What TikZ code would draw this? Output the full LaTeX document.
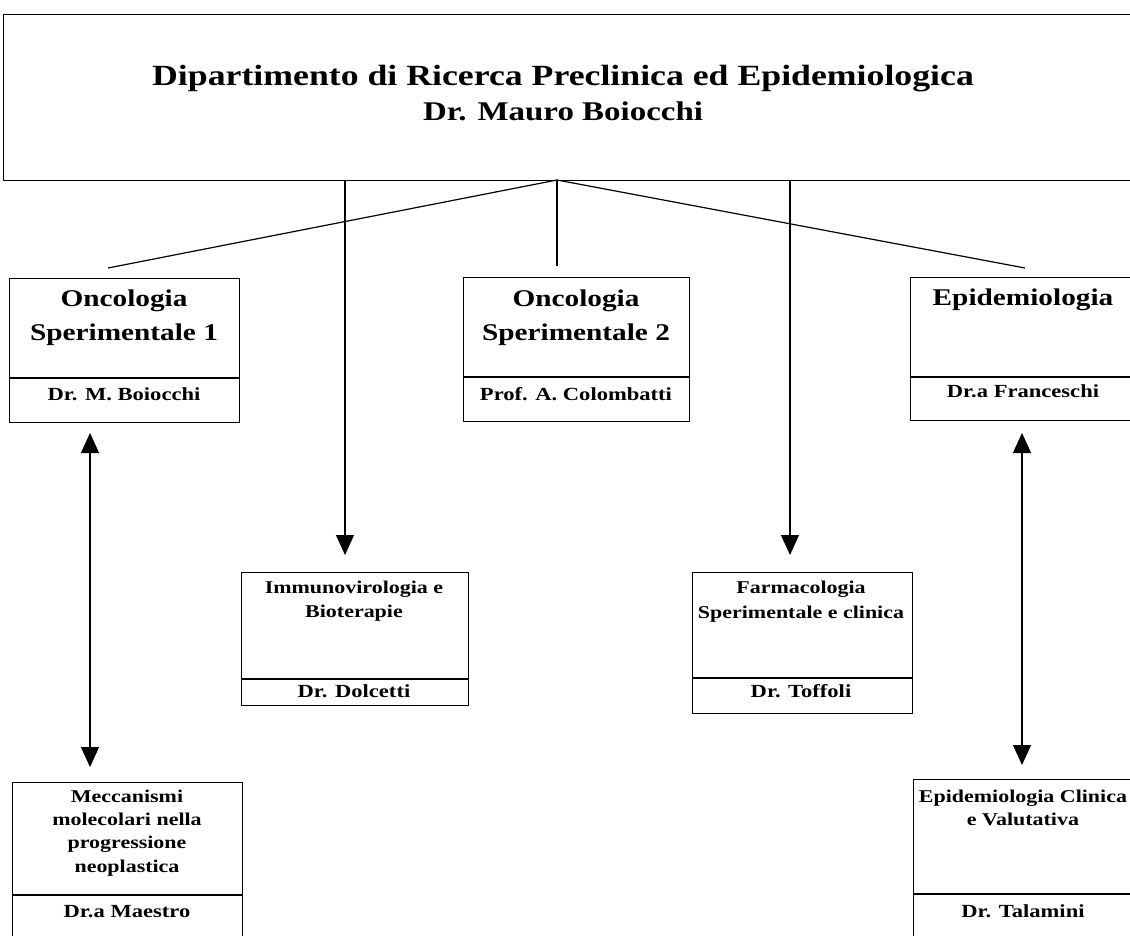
\documentclass[tikz,border=0pt]{standalone}
\usepackage{fontspec}
\setmainfont[FakeStretch=1.22]{Liberation Serif}
\usetikzlibrary{arrows.meta}
\begin{document}
\begin{tikzpicture}[x=1pt,y=-1pt,
  box/.style={draw, line width=1.2pt, anchor=north west, inner sep=0pt},
  ttl/.style={anchor=base, inner sep=0pt, font=\bfseries\fontsize{29.3}{34}\selectfont},
  ttlb/.style={anchor=base, inner sep=0pt, font=\bfseries\fontsize{27}{32}\selectfont},
  head/.style={anchor=base, inner sep=0pt, font=\bfseries\fontsize{24}{28}\selectfont},
  lbl/.style={anchor=base, inner sep=0pt, font=\bfseries\fontsize{18}{20}\selectfont},
  nm/.style={anchor=base, inner sep=0pt, font=\bfseries\fontsize{18.5}{20}\selectfont},
  conn/.style={line width=1.2pt},
  arr/.style={conn, -{Triangle[width=18pt,length=20pt]}},
  darr/.style={conn, {Triangle[width=18pt,length=20pt]}-{Triangle[width=18pt,length=20pt]}}]
\useasboundingbox (0,0) rectangle (1130,936);
\clip (0,0) rectangle (1130,936);

% boxes
\node[box, minimum width=1140pt, minimum height=166pt] (top) at (3,14) {};
\node[box, minimum width=230pt, minimum height=144pt] (os1) at (9,278) {};
\node[box, minimum width=226pt, minimum height=144pt] (os2) at (463,277) {};
\node[box, minimum width=226pt, minimum height=143pt] (epi) at (910,277) {};
\node[box, minimum width=227pt, minimum height=133pt] (imm) at (241,572) {};
\node[box, minimum width=220pt, minimum height=141pt] (far) at (692,572) {};
\node[box, minimum width=230pt, minimum height=200pt] (mec) at (12,782) {};
\node[box, minimum width=222pt, minimum height=200pt] (ecl) at (913,779) {};

% dividers
\draw[line width=1.2pt] (os1.west |- 0,378) -- (os1.east |- 0,378);
\draw[line width=1.2pt] (os2.west |- 0,377) -- (os2.east |- 0,377);
\draw[line width=1.2pt] (epi.west |- 0,377) -- (epi.east |- 0,377);
\draw[line width=1.2pt] (imm.west |- 0,679) -- (imm.east |- 0,679);
\draw[line width=1.2pt] (far.west |- 0,678) -- (far.east |- 0,678);
\draw[line width=1.2pt] (mec.west |- 0,895) -- (mec.east |- 0,895);
\draw[line width=1.2pt] (ecl.west |- 0,894) -- (ecl.east |- 0,894);

% texts
\node[ttl] (t1) at (563,86) {Dipartimento di Ricerca Preclinica ed Epidemiologica};
\node[ttlb] (t2) at (563,121) {Dr. Mauro Boiocchi};

\node[head] (os1a) at (124,306) {Oncologia};
\node[head] (os1b) at (124,340) {Sperimentale 1};
\node[nm] (os1n) at (124,400) {Dr. M. Boiocchi};

\node[head] (os2a) at (576,306) {Oncologia};
\node[head] (os2b) at (576,340) {Sperimentale 2};
\node[nm] (os2n) at (576,400) {Prof. A. Colombatti};

\node[head] (epia) at (1023,305) {Epidemiologia};
\node[nm] (epin) at (1023,397) {Dr.a Franceschi};

\node[lbl] (imma) at (354,593) {Immunovirologia e};
\node[lbl] (immb) at (354,617) {Bioterapie};
\node[nm] (immn) at (354,697) {Dr. Dolcetti};

\node[lbl] (fara) at (801,593) {Farmacologia};
\node[lbl] (farb) at (801,618) {Sperimentale e clinica};
\node[nm] (farn) at (801,697) {Dr. Toffoli};

\node[lbl] (meca) at (127,802) {Meccanismi};
\node[lbl] (mecb) at (127,825) {molecolari nella};
\node[lbl] (mecc) at (127,848) {progressione};
\node[lbl] (mecd) at (127,872) {neoplastica};
\node[nm] (mecn) at (127,917) {Dr.a Maestro};

\node[lbl] (ecla) at (1023,802) {Epidemiologia Clinica};
\node[lbl] (eclb) at (1023,825) {e Valutativa};
\node[nm] (ecln) at (1023,917) {Dr. Talamini};

% connectors
\coordinate (hub) at (557,180);
\coordinate (c1) at (108,268);
\coordinate (c2) at (557,266);
\coordinate (c3) at (1025,268);
\draw[conn] (hub) -- (c1);
\draw[conn] (hub) -- (c2);
\draw[conn] (hub) -- (c3);

\coordinate (a1s) at (345,180);
\coordinate (a1e) at (345,555);
\coordinate (a2s) at (790,180);
\coordinate (a2e) at (790,555);
\draw[arr] (a1s) -- (a1e);
\draw[arr] (a2s) -- (a2e);

\coordinate (d1a) at (90,433);
\coordinate (d1b) at (90,767);
\coordinate (d2a) at (1022,433);
\coordinate (d2b) at (1022,765);
\draw[darr] (d1a) -- (d1b);
\draw[darr] (d2a) -- (d2b);
\end{tikzpicture}
\end{document}
